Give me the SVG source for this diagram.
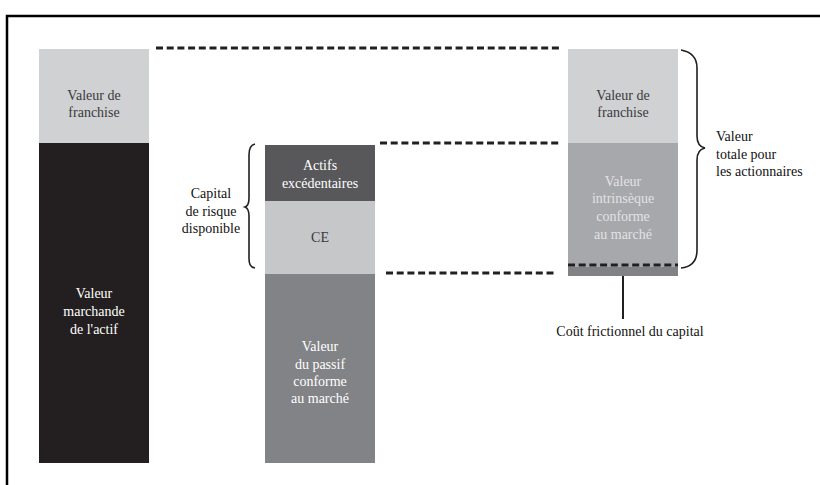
<svg xmlns="http://www.w3.org/2000/svg" width="820" height="485" viewBox="0 0 820 485">
<style>
text{font-family:'Liberation Serif','DejaVu Serif',serif;font-size:14px;text-anchor:middle}
.dk{fill:#3a3a3c}.wh{fill:#ffffff}.lt{fill:#e2e2e4}.bk{fill:#111}
.dash{stroke:#231f20;stroke-width:3;stroke-dasharray:7 3.7;fill:none}
.br{stroke:#231f20;stroke-width:1.6;fill:none}
</style>
<rect width="820" height="485" fill="#fff"/>
<path d="M7 485V16H820" fill="none" stroke="#000" stroke-width="2.5"/>
<g id="col1">
<g id="franchise1"><rect x="39" y="49" width="110" height="94" fill="#d0d1d3"/>
<text class="dk" x="94" y="100">Valeur de</text><text class="dk" x="94" y="117">franchise</text></g>
<g id="actif"><rect x="39" y="143" width="110" height="320" fill="#231f20"/>
<text class="wh" x="94" y="298">Valeur</text><text class="wh" x="94" y="316">marchande</text><text class="wh" x="94" y="334">de l'actif</text></g>
</g>
<g id="col2">
<g id="excedentaires"><rect x="265" y="145" width="110" height="56" fill="#58585a"/>
<text class="wh" x="320" y="170">Actifs</text><text class="wh" x="320" y="188">excédentaires</text></g>
<g id="ce"><rect x="265" y="201" width="110" height="73" fill="#c6c7c9"/>
<text class="dk" x="320" y="242">CE</text></g>
<g id="passif"><rect x="265" y="274" width="110" height="189" fill="#828386"/>
<text class="wh" x="320" y="351">Valeur</text><text class="wh" x="320" y="369">du passif</text><text class="wh" x="320" y="386">conforme</text><text class="wh" x="320" y="403">au marché</text></g>
</g>
<g id="col3">
<g id="franchise2"><rect x="568" y="49" width="110" height="94" fill="#d0d1d3"/>
<text class="dk" x="623" y="100">Valeur de</text><text class="dk" x="623" y="117">franchise</text></g>
<g id="intrinseque"><rect x="568" y="143" width="110" height="124" fill="#a7a8ab"/>
<text class="lt" x="623" y="186">Valeur</text><text class="lt" x="623" y="203">intrinsèque</text><text class="lt" x="623" y="221">conforme</text><text class="lt" x="623" y="239">au marché</text></g>
<g id="frictionnel"><rect x="568" y="267" width="110" height="9" fill="#818285"/></g>
</g>
<g id="labels">
<g id="capital"><text class="bk" x="211" y="198">Capital</text><text class="bk" x="211" y="216">de risque</text><text class="bk" x="211" y="233">disponible</text></g>
<g id="totale"><text class="bk" x="716" y="141" style="text-anchor:start">Valeur</text><text class="bk" x="716" y="159" style="text-anchor:start">totale pour</text><text class="bk" x="716" y="176" style="text-anchor:start">les actionnaires</text></g>
<g id="cout"><text class="bk" x="630" y="336">Coût frictionnel du capital</text></g>
</g>
<g id="connectors">
<line class="dash" x1="156" y1="48" x2="561" y2="48"/>
<line class="dash" x1="380" y1="143" x2="560" y2="143"/>
<line class="dash" x1="386" y1="273" x2="556" y2="273"/>
<line class="dash" x1="568" y1="265" x2="678" y2="265"/>
<line x1="623" y1="276" x2="623" y2="319" stroke="#231f20" stroke-width="2"/>
<path class="br" d="M255 144C250 145 249 149 249 155V198C249 203 248 206 245 207C248 208 249 211 249 216V258C249 264 250 267 255 268"/>
<path class="br" d="M681 50C692 52 697 58 697 68V136C697 143 700 147 705 148C700 149 697 153 697 160V250C697 261 692 267 681 268"/>
</g>
</svg>
